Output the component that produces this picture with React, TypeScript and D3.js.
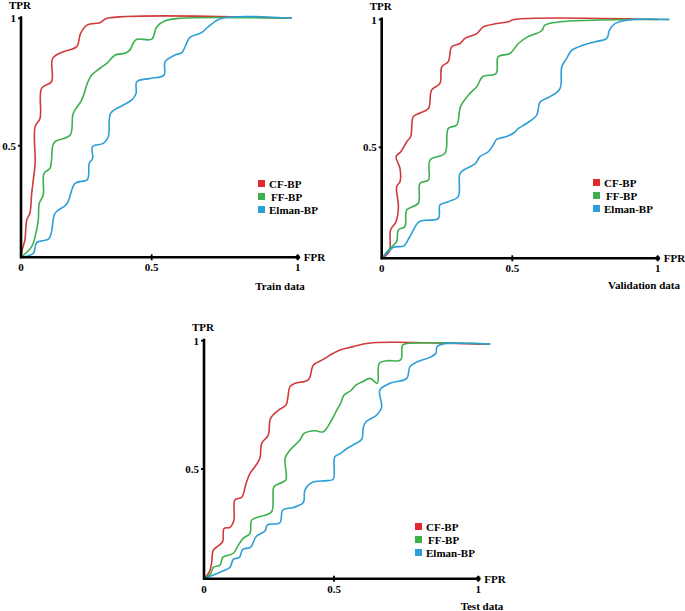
import React from "react";
import * as d3 from "d3";

type Pt = [number, number];

const seriesNames = ["CF-BP", "FF-BP", "Elman-BP"];
const seriesColors = ["#d23a3a", "#3db04e", "#2e9fd6"];
const legendColors = ["#e02a2e", "#3db04e", "#2e9fd6"];
const tickValues = [0, 0.5, 1];
const tickLabels = ["0", "0.5", "1"];
const panelTitles = ["Train data", "Validation data", "Test data"];

const trainCF: Pt[] = [[0,0],[0.006,0.04],[0.015,0.078],[0.022,0.167],[0.034,0.197],[0.041,0.287],[0.047,0.346],[0.054,0.421],[0.054,0.575],[0.073,0.608],[0.079,0.726],[0.117,0.752],[0.121,0.843],[0.162,0.869],[0.213,0.889],[0.228,0.941],[0.254,0.974],[0.302,0.983],[0.33,1],[0.98,1]];
const trainFF: Pt[] = [[0,0],[0.041,0.048],[0.054,0.093],[0.066,0.167],[0.07,0.242],[0.085,0.279],[0.088,0.376],[0.111,0.399],[0.121,0.496],[0.13,0.516],[0.188,0.542],[0.2,0.627],[0.232,0.679],[0.254,0.745],[0.27,0.777],[0.302,0.804],[0.328,0.823],[0.36,0.856],[0.398,0.863],[0.417,0.876],[0.43,0.904],[0.443,0.918],[0.5,0.918],[0.517,0.966],[0.546,0.99],[0.597,1],[0.98,1]];
const trainEl: Pt[] = [[0,0],[0.047,0.018],[0.06,0.066],[0.105,0.081],[0.117,0.115],[0.13,0.197],[0.175,0.239],[0.207,0.331],[0.254,0.349],[0.261,0.421],[0.274,0.443],[0.274,0.496],[0.315,0.509],[0.334,0.535],[0.343,0.627],[0.385,0.656],[0.423,0.679],[0.44,0.705],[0.443,0.751],[0.494,0.764],[0.542,0.777],[0.546,0.83],[0.58,0.856],[0.603,0.865],[0.631,0.925],[0.671,0.944],[0.694,0.967],[0.74,1],[0.98,1]];

const valCF: Pt[] = [[0,0],[0.029,0.03],[0.034,0.128],[0.055,0.165],[0.064,0.233],[0.057,0.323],[0.07,0.345],[0.07,0.405],[0.055,0.458],[0.073,0.48],[0.096,0.522],[0.111,0.542],[0.121,0.62],[0.144,0.633],[0.179,0.652],[0.191,0.724],[0.223,0.75],[0.23,0.815],[0.255,0.835],[0.268,0.893],[0.3,0.906],[0.319,0.926],[0.364,0.945],[0.389,0.971],[0.44,0.984],[0.485,0.991],[0.506,1],[1.0,1]];
const valFF: Pt[] = [[0,0],[0.032,0.045],[0.057,0.075],[0.064,0.128],[0.089,0.143],[0.096,0.218],[0.14,0.248],[0.147,0.338],[0.179,0.353],[0.185,0.443],[0.242,0.473],[0.255,0.574],[0.287,0.587],[0.302,0.659],[0.338,0.711],[0.364,0.737],[0.386,0.776],[0.438,0.789],[0.446,0.854],[0.491,0.867],[0.521,0.906],[0.55,0.93],[0.601,0.956],[0.612,0.978],[0.664,0.991],[0.778,0.997],[0.916,1],[1.04,1]];
const valEl: Pt[] = [[0,0],[0.019,0.023],[0.045,0.05],[0.085,0.056],[0.102,0.086],[0.115,0.113],[0.144,0.165],[0.217,0.18],[0.223,0.24],[0.255,0.255],[0.293,0.278],[0.3,0.383],[0.325,0.405],[0.357,0.425],[0.376,0.458],[0.408,0.48],[0.427,0.509],[0.44,0.531],[0.478,0.542],[0.506,0.557],[0.521,0.574],[0.55,0.594],[0.584,0.626],[0.596,0.678],[0.63,0.698],[0.664,0.73],[0.67,0.815],[0.687,0.848],[0.705,0.88],[0.745,0.9],[0.785,0.913],[0.825,0.926],[0.834,0.958],[0.853,0.984],[0.916,1],[1.04,1]];

const testCF: Pt[] = [[0,0],[0.021,0.032],[0.029,0.07],[0.036,0.131],[0.051,0.146],[0.072,0.169],[0.077,0.229],[0.1,0.234],[0.115,0.267],[0.119,0.359],[0.145,0.371],[0.162,0.435],[0.177,0.48],[0.196,0.509],[0.215,0.542],[0.222,0.6],[0.247,0.632],[0.256,0.697],[0.286,0.729],[0.315,0.749],[0.331,0.821],[0.35,0.834],[0.401,0.847],[0.421,0.905],[0.459,0.927],[0.497,0.951],[0.521,0.964],[0.567,0.977],[0.619,0.99],[0.706,0.994],[0.891,0.99],[0.983,0.987],[1.041,0.986]];
const testFF: Pt[] = [[0,0],[0.026,0.024],[0.036,0.052],[0.062,0.062],[0.072,0.097],[0.113,0.116],[0.132,0.153],[0.151,0.184],[0.177,0.207],[0.183,0.267],[0.215,0.283],[0.26,0.305],[0.269,0.419],[0.292,0.435],[0.315,0.45],[0.312,0.542],[0.331,0.574],[0.369,0.613],[0.385,0.639],[0.427,0.649],[0.459,0.645],[0.491,0.691],[0.51,0.73],[0.523,0.756],[0.535,0.788],[0.558,0.805],[0.576,0.827],[0.599,0.84],[0.625,0.853],[0.65,0.834],[0.657,0.912],[0.683,0.922],[0.731,0.925],[0.738,0.983],[0.763,0.99],[0.867,0.992],[0.983,0.99],[1.041,0.987]];
const testEl: Pt[] = [[0,0],[0.036,0.017],[0.074,0.036],[0.1,0.052],[0.113,0.088],[0.136,0.097],[0.149,0.134],[0.179,0.143],[0.2,0.191],[0.235,0.219],[0.244,0.245],[0.292,0.255],[0.303,0.313],[0.344,0.325],[0.382,0.347],[0.388,0.404],[0.414,0.438],[0.472,0.447],[0.497,0.453],[0.503,0.548],[0.523,0.561],[0.546,0.581],[0.567,0.594],[0.596,0.616],[0.602,0.665],[0.611,0.684],[0.648,0.71],[0.665,0.74],[0.659,0.808],[0.694,0.834],[0.752,0.853],[0.763,0.899],[0.789,0.918],[0.832,0.935],[0.853,0.951],[0.857,0.977],[0.878,0.987],[0.924,0.99],[1.041,0.987]];

const panelData: Pt[][][] = [
  [trainCF, trainFF, trainEl],
  [valCF, valFF, valEl],
  [testCF, testFF, testEl],
];

interface Layout {
  xr: [number, number, number];
  yr: [number, number, number];
  legX: number;
  legY: number;
  titleX: number;
  titleY: number;
  tprY: number;
}

const layouts: Layout[] = [
  { xr: [21, 151.7, 297.7], yr: [257.3, 145.7, 18.3], legX: 258, legY: 184, titleX: 280, titleY: 290, tprY: 9 },
  { xr: [381.7, 512.3, 657.7], yr: [258.3, 147.3, 19.5], legX: 593, legY: 183, titleX: 644, titleY: 289, tprY: 10 },
  { xr: [204, 334, 478.3], yr: [578.7, 469, 340.7], legX: 415, legY: 527, titleX: 482, titleY: 610, tprY: 331 },
];

const FONT = "'Liberation Serif', 'Times New Roman', serif";

function Panel({ data, lay, title }: { data: Pt[][]; lay: Layout; title: string }) {
  const x = d3.scaleLinear().domain([0, 0.5, 1]).range(lay.xr);
  const y = d3.scaleLinear().domain([0, 0.5, 1]).range(lay.yr);
  const line = d3
    .line<Pt>()
    .x((d) => x(d[0]))
    .y((d) => y(d[1]))
    .curve(d3.curveCatmullRom.alpha(0.5));
  const x0 = x(0), x1 = x(1), y0 = y(0), y1 = y(1);
  return (
    <g fontFamily={FONT}>
      {data.map((s, i) => (
        <path key={i} d={line(s) || ""} fill="none" stroke={seriesColors[i]} strokeWidth={1.6} strokeLinejoin="round" />
      ))}
      <line x1={x0} x2={x0} y1={y0 + 1} y2={y1 - 2} stroke="#000" strokeWidth={2.6} />
      <line x1={x0 - 1} x2={x1} y1={y0} y2={y0} stroke="#000" strokeWidth={2.6} />
      <circle cx={x1} cy={y0} r={2.4} fill="#000" />
      {tickValues.slice(1).map((t) => (
        <line key={"xt" + t} x1={x(t)} x2={x(t)} y1={y0 - 3} y2={y0 + 3} stroke="#000" strokeWidth={1.8} />
      ))}
      {tickValues.slice(1).map((t) => (
        <line key={"yt" + t} x1={x0 - 3} x2={x0} y1={y(t)} y2={y(t)} stroke="#000" strokeWidth={1.8} />
      ))}
      {tickValues.map((t, i) => (
        <text key={"xl" + t} x={x(t)} y={y0 + 14} fontSize={11} fontWeight="bold" textAnchor="middle">
          {tickLabels[i]}
        </text>
      ))}
      {tickValues.slice(1).map((t, i) => (
        <text key={"yl" + t} x={x0 - 5} y={y(t) + 4} fontSize={11} fontWeight="bold" textAnchor="end">
          {tickLabels[i + 1]}
        </text>
      ))}
      <text x={x0 - 1} y={lay.tprY} fontSize={11} fontWeight="bold" textAnchor="middle">TPR</text>
      <text x={x1 + 6} y={y0 + 4} fontSize={11} fontWeight="bold">FPR</text>
      <text x={lay.titleX} y={lay.titleY} fontSize={11} fontWeight="bold" textAnchor="middle">{title}</text>
      {seriesNames.map((n, i) => (
        <g key={n}>
          <rect x={lay.legX} y={lay.legY - 4 + i * 13} width={7} height={7} fill={legendColors[i]} />
          <text x={lay.legX + (i === 1 ? 13 : 11)} y={lay.legY + 4 + i * 13} fontSize={11} fontWeight="bold">{n}</text>
        </g>
      ))}
    </g>
  );
}

export default function App() {
  return (
    <svg width={685} height={611} style={{ position: "absolute", left: 0, top: 0, background: "#fff" }}>
      <rect width={685} height={611} fill="#fff" />
      {layouts.map((lay, i) => (
        <Panel key={i} data={panelData[i]} lay={lay} title={panelTitles[i]} />
      ))}
    </svg>
  );
}
